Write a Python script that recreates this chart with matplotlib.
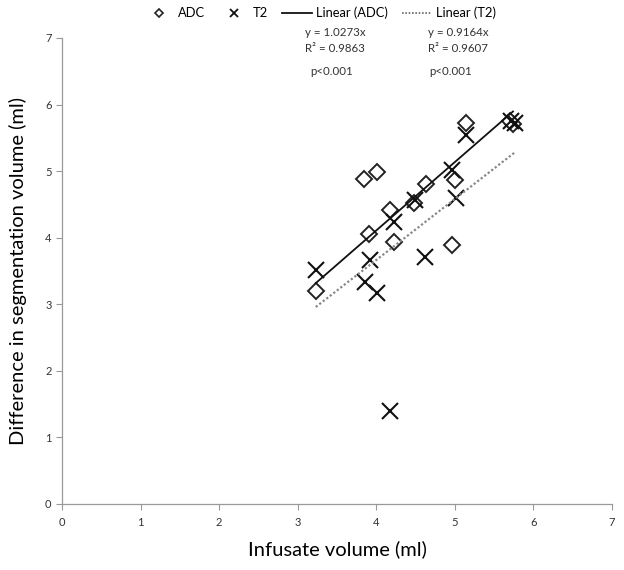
import matplotlib
matplotlib.use("Agg")
import matplotlib.pyplot as plt
from matplotlib.lines import Line2D
import numpy as np

plt.rcParams['font.family'] = ['Lato', 'DejaVu Sans']

# ADC data (infusate volume, difference in segmentation volume)
adc_x = [3.23, 3.84, 4.01, 3.91, 4.17, 4.22, 4.48, 4.63, 5.00, 4.97, 5.14, 5.74, 5.70]
adc_y = [3.20, 4.88, 4.98, 4.05, 4.41, 3.94, 4.52, 4.80, 4.86, 3.89, 5.72, 5.71, 5.76]
# T2 data
t2_x = [3.23, 3.85, 4.01, 3.92, 4.22, 4.49, 4.62, 4.97, 5.01, 5.14, 5.72, 5.76, 4.17]
t2_y = [3.51, 3.34, 3.17, 3.66, 4.24, 4.56, 3.71, 5.02, 4.59, 5.54, 5.76, 5.72, 1.40]

series_names = ["ADC", "T2", "Linear (ADC)", "Linear (T2)"]
adc_slope, adc_r2 = 1.0273, 0.9863
t2_slope, t2_r2 = 0.9164, 0.9607
p_text = "p<0.001"

x_ticks = [0, 1, 2, 3, 4, 5, 6, 7]
y_ticks = [0, 1, 2, 3, 4, 5, 6, 7]

fig = plt.figure(figsize=(6.24, 5.70), dpi=100)
ax = fig.add_axes([62/624, 66/570, 550/624, 466/570])

ax.plot(adc_x, adc_y, linestyle='none', marker='D', markersize=8.5,
        markerfacecolor='white', markeredgecolor='#222222', markeredgewidth=1.4, zorder=3)
ax.plot(t2_x, t2_y, linestyle='none', marker='x', markersize=11,
        markeredgecolor='#111111', markeredgewidth=1.5, zorder=4)

xa = np.array([min(adc_x), max(adc_x)])
ax.plot(xa, adc_slope * xa, color='#111111', linewidth=1.3, zorder=5)
xt = np.array([min(t2_x), max(t2_x)])
ax.plot(xt, t2_slope * xt, color='#888888', linewidth=1.6, linestyle=(0, (1, 1)), zorder=5)

ax.set_xlim(0, 7)
ax.set_ylim(0, 7)
ax.set_xticks(x_ticks)
ax.set_yticks(y_ticks)
ax.tick_params(axis='both', direction='out', length=4, width=0.8, color='#999999',
               labelsize=8, labelcolor='#333333')
ax.tick_params(axis='x', pad=5)
for s in ['top', 'right']:
    ax.spines[s].set_visible(False)
for s in ['left', 'bottom']:
    ax.spines[s].set_color('#999999')
    ax.spines[s].set_linewidth(0.9)

ax.set_xlabel("Infusate volume (ml)", fontsize=14.5, labelpad=9)
ax.set_ylabel("Difference in segmentation volume (ml)", fontsize=14.5, labelpad=13)

handles = [
    Line2D([], [], linestyle='none', marker='D', markersize=4.5, markerfacecolor='white',
           markeredgecolor='#222222', markeredgewidth=1.2),
    Line2D([], [], linestyle='none', marker='x', markersize=6, markeredgecolor='#111111',
           markeredgewidth=1.3),
    Line2D([], [], color='#111111', linewidth=1.3),
    Line2D([], [], color='#666666', linewidth=1.2, linestyle=(0, (1, 1))),
]
fig.legend(handles, series_names, loc='center', bbox_to_anchor=(320/624, 1 - 13/570),
           ncol=4, frameon=False, fontsize=9.3, handlelength=2.3, handletextpad=0.3,
           columnspacing=1.1)

ann_kw = dict(fontsize=8.3, color='#333333', transform=fig.transFigure, va='center', ha='left')
fig.text(305/624, 1 - 33/570, f"y = {adc_slope}x", **ann_kw)
fig.text(305/624, 1 - 48/570, f"R\u00b2 = {adc_r2}", **ann_kw)
fig.text(310/624, 1 - 72/570, p_text, **ann_kw)
fig.text(428/624, 1 - 33/570, f"y = {t2_slope}x", **ann_kw)
fig.text(428/624, 1 - 48/570, f"R\u00b2 = {t2_r2}", **ann_kw)
fig.text(429/624, 1 - 72/570, p_text, **ann_kw)

fig.savefig("out.png", dpi=100)
